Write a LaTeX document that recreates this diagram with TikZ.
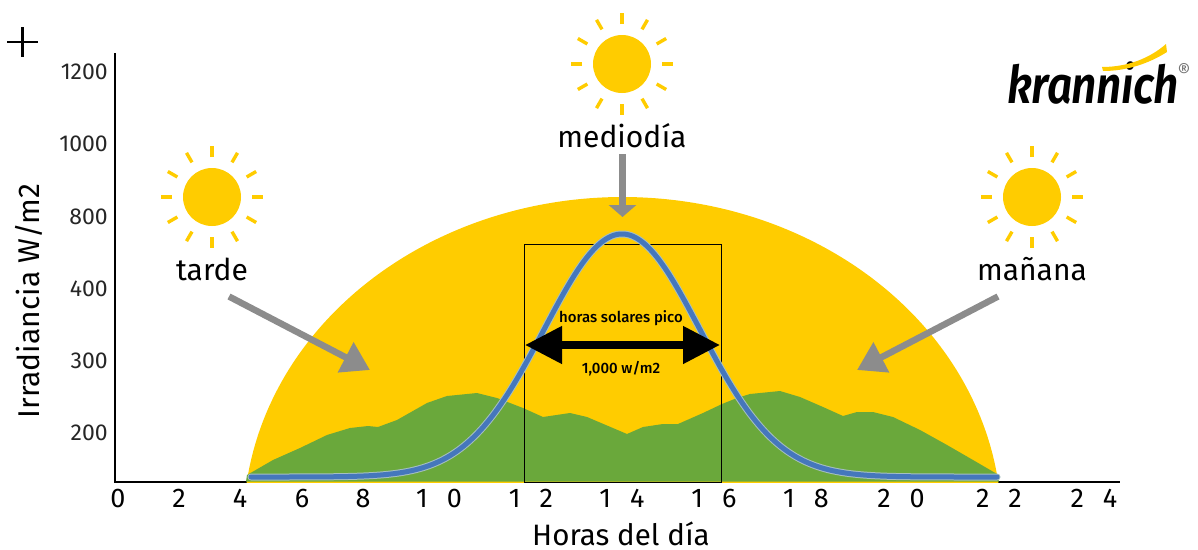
\documentclass[tikz,border=0pt]{standalone}
\usepackage{fontspec}
\setmainfont{Fira Sans}
\newfontfamily\medfont{Fira Sans Medium}
\newfontfamily\logofont{Fira Sans SemiBold}[LetterSpace=-1]
\usetikzlibrary{arrows.meta,calc}
\definecolor{sunyellow}{HTML}{FFCC00}
\definecolor{hillgreen}{HTML}{6AA83B}
\definecolor{curveblue}{HTML}{4577BC}
\definecolor{halo}{HTML}{A5BFC0}
\definecolor{arrowgray}{HTML}{8C8C8C}
\newcommand{\twodig}[2]{#1\hspace{19pt}#2}
\tikzset{
  x=1pt,y=-1pt,
  sundisc/.style={circle,fill=sunyellow,minimum size=58pt,inner sep=0pt},
  sunlabel/.style={font=\fontsize{30}{34}\selectfont,inner sep=0pt,anchor=base},
  ylab/.style={font=\fontsize{23}{26}\selectfont,anchor=east,inner sep=0pt,text=black!85},
  xlab/.style={font=\fontsize{27}{30}\selectfont,anchor=base,inner sep=0pt},
  smalllab/.style={font=\medfont\fontsize{15}{17}\selectfont,inner sep=0pt},
  grayarrow/.style={draw=arrowgray,line width=6.5pt,-{Triangle[length=27.5pt,width=32.6pt]}},
  grayarrowflat/.style={draw=arrowgray,line width=6.2pt,-{Triangle[length=12pt,width=27pt]}},
  blackarrow/.style={draw=black,line width=7.7pt,{Triangle[length=37pt,width=36pt]}-{Triangle[length=37pt,width=36pt]}},
}
\newcommand{\sunrays}[1]{%
  \foreach \a in {0,30,...,330}
    \draw[sunyellow,line width=3.4pt] ($(#1)+(\a:40)$) -- ($(#1)+(\a:51)$);}
\begin{document}
\begin{tikzpicture}
\useasboundingbox (0,0) rectangle (1198,549);
% axes
\coordinate (axtop) at (115,53);
\coordinate (axorigin) at (115,482);
\coordinate (axend) at (1120,482);
\draw[line width=2.2pt,line join=miter] (axtop) -- (axorigin) -- (axend);
% dome
\fill[sunyellow] plot[domain=172.6:7.4,samples=120,smooth] ({622.5+379*cos(\x)},{525-328*sin(\x)}) -- cycle;
% hills
\fill[hillgreen] (246,481.6) -- (247,475) -- (273,460) -- (300,448) -- (327,435) -- (350,428) -- (368,426) -- (378,427)
  -- (397,420) -- (427,403) -- (447,396) -- (477,393) -- (497,398) -- (523,408) -- (543,417) -- (570,413) -- (587,417)
  -- (627,434) -- (643,427) -- (663,424) -- (678,424) -- (703,413) -- (722,404) -- (737,398) -- (750,394) -- (780,391)
  -- (800,397) -- (823,407) -- (843,416) -- (857,412) -- (873,412) -- (893,417) -- (920,430) -- (947,445) -- (973,460)
  -- (997,474) -- (999,481.6) -- cycle;
% peak-sun-hours box
\coordinate (boxa) at (524,244);
\coordinate (boxb) at (721,482);
\draw[line width=0.9pt] (boxa) rectangle (boxb);
% irradiance curve
\draw[halo,line width=7pt,line cap=round] plot[domain=251:997,samples=160,smooth] (\x,{477-243*exp(-((\x-622)/78)^2/2)});
\draw[curveblue,line width=5pt,line cap=round] plot[domain=251:997,samples=160,smooth] (\x,{477-243*exp(-((\x-622)/78)^2/2)});
% suns
\node[sundisc] (suntarde) at (212,197) {};
\node[sundisc] (sunmedio) at (622,64) {};
\node[sundisc] (sunmanana) at (1032,197) {};
\sunrays{suntarde}
\sunrays{sunmedio}
\sunrays{sunmanana}
% sun labels
\node[sunlabel] (ltarde) at (212,280) {tarde};
\node[sunlabel] (lmedio) at (622,147) {mediodía};
\node[sunlabel] (lmanana) at (1032,280) {mañana};
% gray arrows
\coordinate (a1s) at (229,296.5); \coordinate (a1e) at (370,370);
\coordinate (a2s) at (622.5,154); \coordinate (a2e) at (622.5,217);
\coordinate (a3s) at (998,296.5); \coordinate (a3e) at (857,370);
\draw[grayarrow] (a1s) -- (a1e);
\draw[grayarrowflat] (a2s) -- (a2e);
\draw[grayarrow] (a3s) -- (a3e);
% black arrow
\coordinate (b1) at (525,345); \coordinate (b2) at (720,345);
\draw[blackarrow] (b1) -- (b2);
\node[smalllab] (lpico) at (621,318) {horas solares pico};
\node[smalllab] (lwm) at (621,369) {1,000 w/m2};
% y labels
\node[ylab] (y1) at (108,72) {1200};
\node[ylab] (y2) at (108,144) {1000};
\node[ylab] (y3) at (108,217) {800};
\node[ylab] (y4) at (108,289) {400};
\node[ylab] (y5) at (108,361) {300};
\node[ylab] (y6) at (108,433) {200};
% x labels
\node[xlab] (x0) at (118,507) {0};
\node[xlab] (x2) at (179,507) {2};
\node[xlab] (x4) at (240,507) {4};
\node[xlab] (x6) at (302,507) {6};
\node[xlab] (x8) at (363,507) {8};
\node[xlab] (x10) at (439,507) {\twodig{1}{0}};
\node[xlab] (x12) at (531,507) {\twodig{1}{2}};
\node[xlab] (x14) at (622,507) {\twodig{1}{4}};
\node[xlab] (x16) at (714,507) {\twodig{1}{6}};
\node[xlab] (x18) at (806,507) {\twodig{1}{8}};
\node[xlab] (x20) at (901,507) {\twodig{2}{0}};
\node[xlab] (x22) at (999,507) {\twodig{2}{2}};
\node[xlab] (x24) at (1094,507) {\twodig{2}{4}};
% axis titles
\node[font=\fontsize{29.5}{30}\selectfont,inner sep=0pt,anchor=base] (xtitle) at (621,545) {Horas del día};
\node[font=\fontsize{30}{34}\selectfont,inner sep=0pt,rotate=90,anchor=center] (ytitle) at (29,301) {Irradiancia W/m2};
% plus mark
\coordinate (p1) at (7,42); \coordinate (p2) at (38,42);
\coordinate (p3) at (22.3,27); \coordinate (p4) at (22.3,57);
\draw[line width=2.6pt] (p1) -- (p2);
\draw[line width=2.6pt] (p3) -- (p4);
% logo
\node[font=\logofont\fontsize{52}{56}\selectfont\itshape,inner sep=0pt,anchor=base west,xscale=0.85] (logo) at (1007,103) {krannich};
\fill[sunyellow] (1102,67) .. controls (1128,67) and (1150,58) .. (1166,44) -- (1167,52) .. controls (1148,64) and (1126,71) .. (1103,71) -- cycle;
\node[font=\fontsize{20}{22}\selectfont,text=black!55,inner sep=0pt] (reg) at (1184,71) {®};
\end{tikzpicture}
\end{document}
